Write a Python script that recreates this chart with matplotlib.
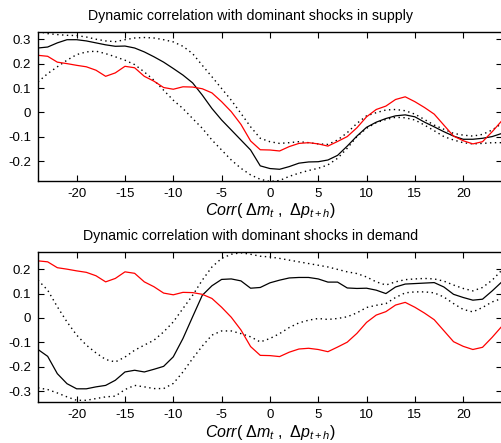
import numpy as np
import matplotlib
matplotlib.use("Agg")
from matplotlib import pyplot as plt

plt.rcParams['font.family'] = ['Liberation Sans', 'DejaVu Sans']
plt.rcParams['mathtext.fontset'] = 'custom'
plt.rcParams['mathtext.rm'] = 'Liberation Sans'
plt.rcParams['mathtext.it'] = 'Liberation Sans:italic'
plt.rcParams['axes.unicode_minus'] = False

# lags h
lags = np.arange(-24, 25)

# data correlation (same in both panels)
data_corr = [0.234, 0.230, 0.206, 0.200, 0.193, 0.187, 0.173, 0.148, 0.162, 0.189,
             0.183, 0.148, 0.128, 0.102, 0.095, 0.105, 0.104, 0.097, 0.080, 0.044,
             0.003, -0.049, -0.117, -0.153, -0.154, -0.158, -0.140, -0.127, -0.124, -0.129,
             -0.138, -0.119, -0.099, -0.063, -0.018, 0.012, 0.026, 0.053, 0.064, 0.044,
             0.020, -0.007, -0.052, -0.097, -0.116, -0.129, -0.120, -0.079, -0.034]

# supply-dominated model: median and bands
supply_mid = [0.264, 0.268, 0.285, 0.298, 0.298, 0.293, 0.285, 0.277, 0.271, 0.272,
              0.264, 0.248, 0.228, 0.206, 0.180, 0.153, 0.121, 0.071, 0.016, -0.031,
              -0.072, -0.113, -0.154, -0.219, -0.230, -0.233, -0.222, -0.208, -0.203, -0.202,
              -0.195, -0.176, -0.138, -0.097, -0.061, -0.040, -0.025, -0.014, -0.010, -0.018,
              -0.040, -0.059, -0.079, -0.097, -0.110, -0.110, -0.106, -0.099, -0.086]
supply_hi = [0.332, 0.323, 0.319, 0.316, 0.315, 0.309, 0.300, 0.293, 0.290, 0.298,
             0.305, 0.307, 0.305, 0.298, 0.289, 0.271, 0.241, 0.193, 0.146, 0.098,
             0.050, -0.004, -0.059, -0.106, -0.120, -0.127, -0.124, -0.120, -0.124, -0.129,
             -0.131, -0.113, -0.083, -0.045, -0.014, -0.001, 0.010, 0.012, 0.007, -0.007,
             -0.029, -0.052, -0.069, -0.086, -0.093, -0.097, -0.090, -0.072, -0.045]
supply_lo = [0.125, 0.159, 0.187, 0.214, 0.237, 0.248, 0.251, 0.241, 0.228, 0.214,
             0.196, 0.166, 0.132, 0.091, 0.050, 0.016, -0.025, -0.065, -0.113, -0.154,
             -0.195, -0.229, -0.256, -0.274, -0.283, -0.279, -0.262, -0.249, -0.238, -0.229,
             -0.215, -0.188, -0.147, -0.099, -0.065, -0.042, -0.029, -0.020, -0.022, -0.031,
             -0.052, -0.075, -0.099, -0.113, -0.124, -0.129, -0.127, -0.124, -0.124]

# demand-dominated model: median and bands
demand_mid = [-0.129, -0.157, -0.228, -0.269, -0.290, -0.290, -0.282, -0.276, -0.255, -0.221,
              -0.214, -0.221, -0.210, -0.198, -0.159, -0.084, 0.005, 0.093, 0.132, 0.158,
              0.160, 0.152, 0.122, 0.125, 0.144, 0.155, 0.164, 0.166, 0.166, 0.160,
              0.147, 0.147, 0.123, 0.121, 0.122, 0.114, 0.100, 0.127, 0.139, 0.141,
              0.143, 0.145, 0.127, 0.097, 0.084, 0.073, 0.077, 0.111, 0.148]
demand_hi = [0.155, 0.114, 0.046, -0.016, -0.070, -0.111, -0.143, -0.170, -0.180, -0.160,
             -0.132, -0.111, -0.091, -0.057, -0.016, 0.039, 0.093, 0.155, 0.209, 0.244,
             0.261, 0.267, 0.261, 0.253, 0.250, 0.244, 0.237, 0.230, 0.223, 0.216,
             0.209, 0.199, 0.189, 0.182, 0.168, 0.148, 0.135, 0.148, 0.157, 0.160,
             0.162, 0.160, 0.151, 0.135, 0.121, 0.111, 0.125, 0.155, 0.196]
demand_lo = [-0.286, -0.293, -0.307, -0.323, -0.337, -0.337, -0.330, -0.323, -0.320, -0.293,
             -0.276, -0.282, -0.289, -0.289, -0.268, -0.221, -0.166, -0.115, -0.070, -0.053,
             -0.053, -0.064, -0.077, -0.098, -0.084, -0.064, -0.039, -0.020, -0.009, -0.002,
             -0.006, -0.002, 0.005, 0.021, 0.043, 0.052, 0.059, 0.084, 0.103, 0.107,
             0.107, 0.103, 0.086, 0.059, 0.035, 0.025, 0.043, 0.066, 0.080]

titles = ["Dynamic correlation with dominant shocks in supply",
          "Dynamic correlation with dominant shocks in demand"]
xlab = r"$\mathit{Corr(}\ \Delta \mathit{m_t}\ ,\ \Delta \mathit{p_{t+h}})$"

fig = plt.figure(figsize=(5.02, 4.43), dpi=100)
ax1 = fig.add_axes([0.0757, 0.592, 0.924, 0.336])
ax2 = fig.add_axes([0.0757, 0.092, 0.924, 0.339])

panels = [(ax1, supply_mid, supply_hi, supply_lo, (-0.28, 0.33), [-0.2, -0.1, 0, 0.1, 0.2, 0.3]),
          (ax2, demand_mid, demand_hi, demand_lo, (-0.345, 0.27), [-0.3, -0.2, -0.1, 0, 0.1, 0.2])]

for ax, mid, hi, lo, ylim, yt in panels:
    ax.plot(lags, hi, color="k", linestyle=(0, (1, 2.5)), linewidth=1)
    ax.plot(lags, lo, color="k", linestyle=(0, (1, 2.5)), linewidth=1)
    ax.plot(lags, mid, color="k", linewidth=0.9)
    ax.plot(lags, data_corr, color="red", linewidth=0.9)
    ax.set_xlim(-24, 24)
    ax.set_ylim(*ylim)
    ax.set_xticks([-20, -15, -10, -5, 0, 5, 10, 15, 20])
    ax.set_yticks(yt)
    ax.set_yticklabels(["{:g}".format(v) for v in yt])
    ax.tick_params(direction="in", top=True, right=True, length=4, width=0.8,
                   labelsize=9.5, colors="k", pad=5)
    for s in ax.spines.values():
        s.set_linewidth(1.0)
    ax.set_xlabel(xlab, fontsize=11.5, labelpad=1)

fig.text(0.5, 0.965, titles[0], ha="center", va="center", fontsize=10.2)
fig.text(0.5, 0.467, titles[1], ha="center", va="center", fontsize=10.2)

fig.savefig("out.png", dpi=100)
